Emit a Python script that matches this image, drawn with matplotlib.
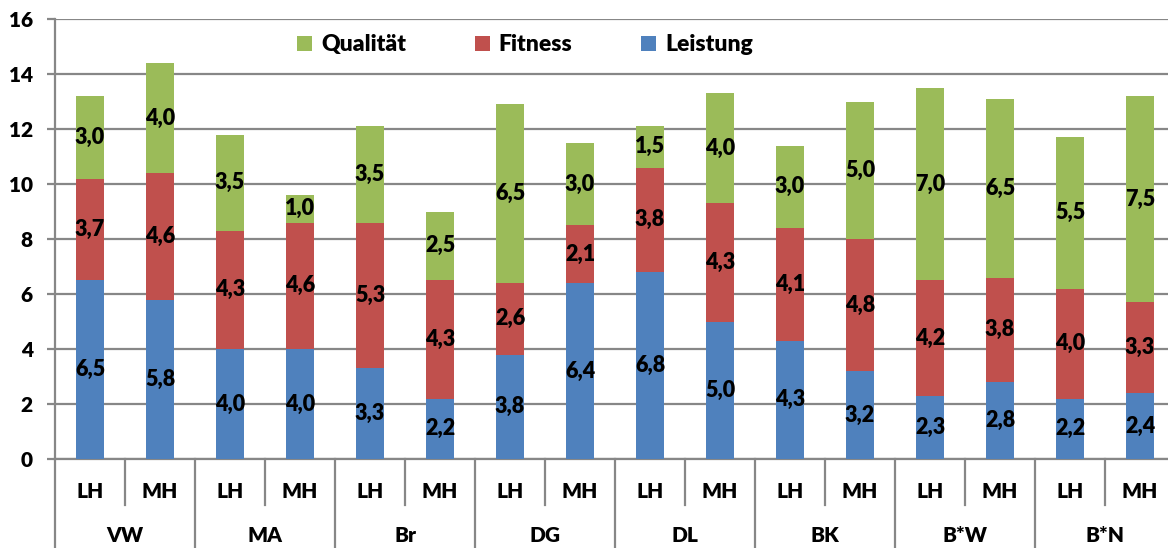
import matplotlib
matplotlib.use("Agg")
import matplotlib.pyplot as plt
import numpy as np

groups = ["VW", "MA", "Br", "DG", "DL", "BK", "B*W", "B*N"]
subs = ["LH", "MH"]
leistung = [6.5, 5.8, 4.0, 4.0, 3.3, 2.2, 3.8, 6.4, 6.8, 5.0, 4.3, 3.2, 2.3, 2.8, 2.2, 2.4]
fitness = [3.7, 4.6, 4.3, 4.6, 5.3, 4.3, 2.6, 2.1, 3.8, 4.3, 4.1, 4.8, 4.2, 3.8, 4.0, 3.3]
qualitaet = [3.0, 4.0, 3.5, 1.0, 3.5, 2.5, 6.5, 3.0, 1.5, 4.0, 3.0, 5.0, 7.0, 6.5, 5.5, 7.5]
yticks = [0, 2, 4, 6, 8, 10, 12, 14, 16]

plt.rcParams['font.family'] = ['Lato', 'DejaVu Sans']
WT = 'heavy'
plt.rcParams['font.weight'] = WT
FS = 15
FS_LBL = 15.5
FS_LEG = 16.5

W, H = 1168, 548
fig = plt.figure(figsize=(W / 100, H / 100), dpi=100)
left, right, top, bottom = 55, 1175, 19, 459
ax = fig.add_axes([left / W, (H - bottom) / H, (right - left) / W, (bottom - top) / H])

n = len(leistung)
x = np.arange(n)
bw = 0.4
c_blue, c_red, c_green = "#4F81BD", "#C0504D", "#9BBB59"
L = np.array(leistung); F = np.array(fitness); Q = np.array(qualitaet)
b1 = ax.bar(x, L, bw, color=c_blue, label="Leistung", zorder=3)
b2 = ax.bar(x, F, bw, bottom=L, color=c_red, label="Fitness", zorder=3)
b3 = ax.bar(x, Q, bw, bottom=L + F, color=c_green, label="Qualität", zorder=3)

for vals, base in [(L, 0 * L), (F, L), (Q, L + F)]:
    for xi, v, b0 in zip(x, vals, base):
        ax.text(xi, b0 + v / 2, f"{v:.1f}".replace(".", ","), ha="center", va="center",
                fontsize=FS_LBL, fontweight=WT, color="black", zorder=5)

ax.set_xlim(-0.5, n - 0.5)
ax.set_ylim(0, 16)
ax.set_yticks(yticks)
ax.set_yticklabels([str(t) for t in yticks], fontsize=FS, fontweight=WT)
ax.yaxis.grid(True, color="#878787", linewidth=1.6, zorder=0)
ax.set_axisbelow(True)
for s in ["top", "right"]:
    ax.spines[s].set_visible(False)
ax.spines["left"].set_color("#878787")
ax.spines["bottom"].set_color("#878787")
ax.spines["left"].set_linewidth(1.6)
ax.spines["bottom"].set_linewidth(1.6)
ax.tick_params(axis="y", length=6, width=1.6, color="#878787", pad=10)
ax.set_xticks([])

trans = ax.get_xaxis_transform()
ph = bottom - top
def yax(px):
    return -px / ph
for i in range(n):
    ax.text(x[i], yax(492 - bottom), subs[i % 2], transform=trans, ha="center", va="center",
            fontsize=FS, fontweight=WT)
for g, name in enumerate(groups):
    ax.text(2 * g + 0.5, yax(535 - bottom), name, transform=trans, ha="center", va="center",
            fontsize=FS, fontweight=WT)
for k in range(n + 1):
    xe = k - 0.5
    if k % 2 == 0:
        y1 = yax(H - bottom + 5)
    else:
        y1 = yax(505 - bottom)
    ax.plot([xe, xe], [0, y1], transform=trans, color="#878787", lw=1.6, clip_on=False)

handles = [b3, b2, b1]
leg = fig.legend(handles, [h.get_label() for h in handles], ncol=3, frameon=False,
                 loc="center", bbox_to_anchor=(525 / W, 1 - 45 / H),
                 prop={"size": FS_LEG, "weight": WT}, handlelength=0.65, handleheight=0.65,
                 handletextpad=0.4, columnspacing=3.0)

fig.savefig("out.png", dpi=100)
